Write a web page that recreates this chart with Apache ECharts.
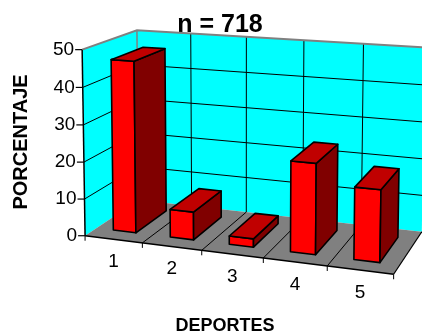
<!DOCTYPE html>
<html>
<head>
<meta charset="utf-8">
<script src="https://cdn.jsdelivr.net/npm/echarts@6/dist/echarts.min.js"></script>
<style>
  html, body { margin: 0; background: #fff; }
  #chart { width: 422px; height: 334px; }
</style>
</head>
<body>
<div id="chart"></div>
<script>
const categories = ['1', '2', '3', '4', '5'];
const percentages = [46.5, 7.5, 2.2, 23.7, 18.6];
const valueTicks = [0, 10, 20, 30, 40, 50];
const valueMax = 50;

// where the corners of the 3D box sit on screen (x: category units, y: 0..1 of the value axis, z: depth 0..1)
// used only to fit the perspective, marks go through the axes below
const view = [
  [0, 0, 0, 86, 234], [0, 1, 0, 80.5, 50], [0, 1, 1, 137, 31], [0, 0, 1, 137, 201],
  [5, 0, 0, 393, 276], [5, 0, 1, 422, 231], [5, 1, 1, 422, 46.5],
  [1, 0, 0, 143, 242], [2, 0, 0, 202, 250], [3, 0, 0, 263, 258], [4, 0, 0, 328, 267],
  [1, 1, 1, 191, 34], [2, 1, 1, 247, 37], [3, 1, 1, 306, 40], [4, 1, 1, 365, 43.5]
];

const font = "'Liberation Sans', Arial, sans-serif";
const colors = {
  wall: '#00FFFF', floor: '#808080', edge: '#808080',
  front: '#FF0000', side: '#800000', top: '#C00000'
};

// least squares fit of a 3x4 projective matrix (last entry fixed to 1)
function fitProjection(pts) {
  const n = 11;
  const N = [];
  for (let i = 0; i < n; i++) N.push(new Array(n + 1).fill(0));
  const add = (row, rhs) => {
    for (let i = 0; i < n; i++) {
      for (let j = 0; j < n; j++) N[i][j] += row[i] * row[j];
      N[i][n] += row[i] * rhs;
    }
  };
  pts.forEach(([X, Y, Z, u, v]) => {
    add([X, Y, Z, 1, 0, 0, 0, 0, -u * X, -u * Y, -u * Z], u);
    add([0, 0, 0, 0, X, Y, Z, 1, -v * X, -v * Y, -v * Z], v);
  });
  for (let c = 0; c < n; c++) {
    let p = c;
    for (let r = c + 1; r < n; r++) if (Math.abs(N[r][c]) > Math.abs(N[p][c])) p = r;
    [N[c], N[p]] = [N[p], N[c]];
    for (let r = 0; r < n; r++) {
      if (r === c) continue;
      const f = N[r][c] / N[c][c];
      for (let k = c; k <= n; k++) N[r][k] -= f * N[c][k];
    }
  }
  return N.map((row, i) => row[n] / row[i]);
}

const m = fitProjection(view);
function P(X, Y, Z) {
  const w = m[8] * X + m[9] * Y + m[10] * Z + 1;
  return [
    (m[0] * X + m[1] * Y + m[2] * Z + m[3]) / w,
    (m[4] * X + m[5] * Y + m[6] * Z + m[7]) / w
  ];
}

// flat grid position -> (category units, 0..1)
function toBox(params, api, cat, val) {
  const cs = params.coordSys;
  const pt = api.coord([cat, val]);
  return [
    (pt[0] - cs.x) / cs.width * categories.length,
    (cs.y + cs.height - pt[1]) / cs.height
  ];
}

function poly(points, fill, stroke, lw) {
  return {
    type: 'polygon',
    shape: { points: points },
    style: { fill: fill, stroke: stroke || null, lineWidth: lw || 0, lineJoin: 'round' }
  };
}
function line(a, b, color, lw) {
  return {
    type: 'line',
    shape: { x1: a[0], y1: a[1], x2: b[0], y2: b[1] },
    style: { stroke: color, lineWidth: lw }
  };
}

function renderFrame(params, api) {
  const nCat = categories.length;
  const kids = [];
  kids.push(poly([P(0, 0, 0), P(0, 1, 0), P(0, 1, 1), P(0, 0, 1)], colors.wall));
  kids.push(poly([P(0, 0, 1), P(0, 1, 1), P(nCat, 1, 1), P(nCat, 0, 1)], colors.wall));
  kids.push(poly([P(0, 0, 0), P(nCat, 0, 0), P(nCat, 0, 1), P(0, 0, 1)], colors.floor));

  valueTicks.forEach(t => {
    const Y = toBox(params, api, 0, t)[1];
    if (t > 0 && t < valueMax) {
      kids.push(line(P(0, Y, 0), P(0, Y, 1), '#000', 1));
      kids.push(line(P(0, Y, 1), P(nCat, Y, 1), '#000', 1));
    }
    const a = P(0, Y, 0);
    kids.push(line(a, [a[0] - 7, a[1]], '#000', 1.2));
    kids.push({
      type: 'text',
      style: {
        text: String(t), x: a[0] - 8, y: a[1],
        align: 'right', verticalAlign: 'middle',
        font: '19px ' + font, fill: '#000'
      }
    });
  });

  for (let k = 1; k < nCat; k++) {
    kids.push(line(P(k, 0, 0), P(k, 0, 1), '#000', 1));
    kids.push(line(P(k, 0, 1), P(k, 1, 1), '#000', 1));
  }
  for (let k = 0; k <= nCat; k++) {
    const a = P(k, 0, 0);
    kids.push(line(a, [a[0], a[1] + 5], '#000', 1));
  }

  // outer edges of the walls
  kids.push({
    type: 'polyline',
    shape: { points: [P(0, 1, 0), P(0, 1, 1), P(nCat, 1, 1)] },
    style: { stroke: colors.edge, lineWidth: 2, fill: null }
  });
  kids.push(line(P(0, 0, 1), P(0, 1, 1), colors.edge, 1.5));
  kids.push(line(P(nCat, 0, 0), P(nCat, 0, 1), '#000', 1.2));
  kids.push(line(P(0, 0, 0), P(0, 1, 0), '#000', 1.5));
  kids.push(line(P(0, 0, 0), P(nCat, 0, 0), '#000', 1.5));

  categories.forEach((c, i) => {
    const X = toBox(params, api, i, 0)[0];
    const a = P(X, 0, 0);
    kids.push({
      type: 'text',
      style: {
        text: c, x: a[0], y: a[1] + 22.5,
        align: 'center', verticalAlign: 'middle',
        font: '19px ' + font, fill: '#000'
      }
    });
  });

  return { type: 'group', children: kids };
}

function renderBar(params, api) {
  const [Xc, Y] = toBox(params, api, api.value(0), api.value(1));
  const x0 = Xc - 0.2, x1 = Xc + 0.2, z0 = 0.2, z1 = 0.8;
  const s = '#000', lw = 1.6;
  return {
    type: 'group',
    children: [
      poly([P(x0, 0, z0), P(x1, 0, z0), P(x1, Y, z0), P(x0, Y, z0)], colors.front, s, lw),
      poly([P(x1, 0, z0), P(x1, 0, z1), P(x1, Y, z1), P(x1, Y, z0)], colors.side, s, lw),
      poly([P(x0, Y, z0), P(x1, Y, z0), P(x1, Y, z1), P(x0, Y, z1)], colors.top, s, lw)
    ]
  };
}

const chart = echarts.init(document.getElementById('chart'), null, { renderer: 'canvas' });
chart.setOption({
  animation: false,
  backgroundColor: '#fff',
  grid: { left: 0, top: 0, width: 400, height: 200 },
  xAxis: { type: 'category', data: categories, show: false },
  yAxis: { type: 'value', min: 0, max: valueMax, show: false },
  graphic: [
    {
      type: 'text', x: 220, y: 25,
      style: { text: 'n = 718', align: 'center', verticalAlign: 'middle', font: 'bold 25px ' + font, fill: '#000' }
    },
    {
      type: 'text', x: 21, y: 142, rotation: Math.PI / 2,
      style: { text: 'PORCENTAJE', align: 'center', verticalAlign: 'middle', font: 'bold 20px ' + font, fill: '#000' }
    },
    {
      type: 'text', x: 225, y: 326,
      style: { text: 'DEPORTES', align: 'center', verticalAlign: 'middle', font: 'bold 18px ' + font, fill: '#000' }
    }
  ],
  series: [
    {
      type: 'custom', z: 1, silent: true,
      data: [[0, 0]],
      renderItem: renderFrame
    },
    {
      type: 'custom', z: 2, silent: true,
      data: percentages.map((v, i) => [i, v]),
      renderItem: renderBar
    }
  ]
});
</script>
</body>
</html>
